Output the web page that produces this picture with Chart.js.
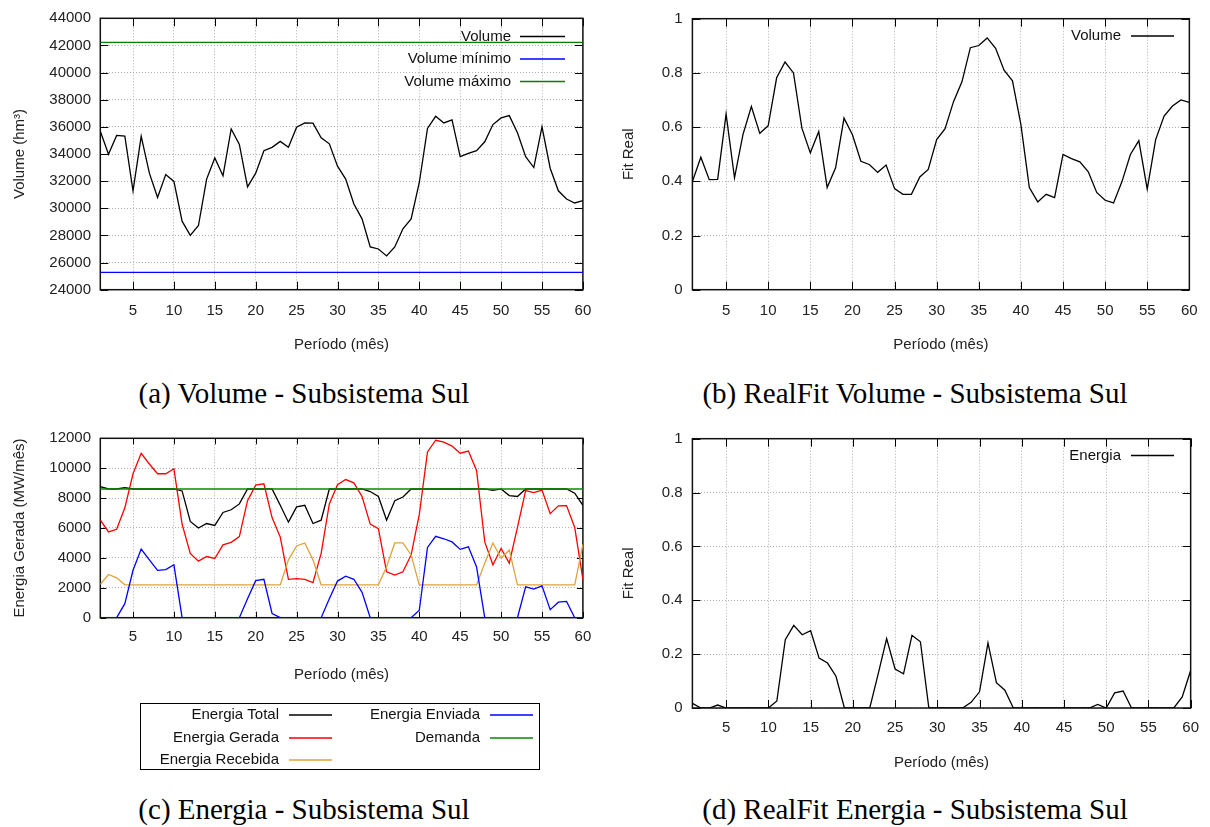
<!DOCTYPE html>
<html><head><meta charset="utf-8">
<script src="https://cdn.jsdelivr.net/npm/chart.js@4.4.0/dist/chart.umd.min.js"></script>
<style>
html,body{margin:0;padding:0;background:#fff}
body{width:1210px;height:827px;position:relative;overflow:hidden}
canvas{position:absolute}
.cap{position:absolute;font-family:"Liberation Serif","Times New Roman",serif;font-size:29px;line-height:1;color:#000;white-space:nowrap;transform:translate(-50%,-50%)}
</style></head><body>
<canvas id="ca" width="605" height="370" style="left:0;top:0"></canvas>
<canvas id="cb" width="605" height="370" style="left:605px;top:0"></canvas>
<canvas id="cc" width="605" height="360" style="left:0;top:420px"></canvas>
<canvas id="cd" width="605" height="360" style="left:605px;top:420px"></canvas>
<div class="cap" style="left:304px;top:393px">(a) Volume - Subsistema Sul</div>
<div class="cap" style="left:915px;top:393px">(b) RealFit Volume - Subsistema Sul</div>
<div class="cap" style="left:304px;top:809px">(c) Energia - Subsistema Sul</div>
<div class="cap" style="left:915px;top:809px">(d) RealFit Energia - Subsistema Sul</div>
<script>
// ---------- data ----------
const periods = [1,2,3,4,5,6,7,8,9,10,11,12,13,14,15,16,17,18,19,20,21,22,23,24,25,26,27,28,29,30,31,32,33,34,35,36,37,38,39,40,41,42,43,44,45,46,47,48,49,50,51,52,53,54,55,56,57,58,59,60];
const xTicks = [5,10,15,20,25,30,35,40,45,50,55,60];

const volume = [35680,33980,35370,35320,31290,35300,32590,30800,32490,31980,
  29050,28000,28730,32150,33710,32390,35850,34700,31580,32590,
  34240,34490,34930,34490,35980,36290,36270,35200,34750,33100,
  32150,30320,29220,27150,27000,26490,27150,28490,29220,31900,
  35880,36780,36290,36510,33800,34050,34240,34900,36170,36660,
  36830,35560,33800,33000,36000,32950,31290,30680,30390,30560];
const volumeMin = 25270;
const volumeMax = 42220;
const volumeTicks = [24000,26000,28000,30000,32000,34000,36000,38000,40000,42000,44000];

const fitVolume = [0.399,0.489,0.406,0.407,0.648,0.413,0.572,0.676,0.577,0.605,
  0.782,0.840,0.800,0.596,0.505,0.584,0.377,0.450,0.633,0.572,
  0.474,0.462,0.433,0.460,0.373,0.352,0.352,0.416,0.444,0.554,
  0.594,0.694,0.767,0.893,0.901,0.929,0.891,0.810,0.771,0.609,
  0.377,0.324,0.352,0.340,0.499,0.484,0.472,0.435,0.359,0.330,
  0.320,0.399,0.499,0.550,0.371,0.554,0.641,0.678,0.700,0.691];
const fitTicks = [0,0.2,0.4,0.6,0.8,1];

const energiaTotal = [8760,8610,8610,8700,8610,8610,8610,8610,8610,8610,
  8480,6440,6000,6300,6170,7040,7220,7610,8610,8610,
  8610,8610,7520,6390,7410,7520,6300,6520,8610,8610,
  8610,8610,8610,8440,8110,6520,7830,8070,8610,8610,
  8610,8610,8610,8610,8610,8610,8610,8610,8520,8610,
  8170,8110,8610,8610,8610,8610,8610,8610,8330,7520];
const energiaGerada = [6540,5740,5910,7350,9630,11000,10280,9630,9630,9960,
  6260,4300,3780,4090,3960,4870,5040,5430,7830,8870,
  8960,6700,5390,2570,2610,2570,2350,4300,7610,8900,
  9240,9020,8110,6260,5960,3070,2850,3070,4200,6910,
  11090,11870,11740,11480,11000,11150,9850,5070,3540,4630,
  3650,6040,8500,8370,8540,6960,7480,7500,6040,2570];
const energiaRecebida = [2240,2890,2670,2200,2200,2200,2200,2200,2200,2200,
  2200,2200,2200,2200,2200,2200,2200,2200,2200,2200,
  2200,2200,2200,3870,4800,5000,3870,2200,2200,2200,
  2200,2200,2200,2200,2200,3400,5000,5000,4200,2200,
  2200,2200,2200,2200,2200,2200,2200,3650,5000,3980,
  4520,2200,2200,2200,2200,2200,2200,2200,2200,4900];
const energiaEnviada = [0,0,0,940,3170,4590,3870,3170,3220,3540,
  0,0,0,0,0,0,0,0,1260,2480,
  2570,280,0,0,0,0,0,0,1260,2450,
  2780,2570,1700,0,0,0,0,0,0,500,
  4700,5440,5280,5070,4570,4740,3390,0,0,0,
  0,0,2070,1910,2130,540,1040,1090,0,0];
const demanda = 8610;
const energiaTicks = [0,2000,4000,6000,8000,10000,12000];

const fitEnergia = [0.017,0,0,0.011,0,0,0,0,0,0,
  0.026,0.254,0.307,0.272,0.287,0.185,0.167,0.118,0,0,
  0,0,0.127,0.258,0.145,0.127,0.270,0.246,0,0,
  0,0,0,0.021,0.060,0.242,0.094,0.066,0,0,
  0,0,0,0,0,0,0,0,0.013,0,
  0.056,0.063,0,0,0,0,0,0,0.041,0.139];

// ---------- helpers ----------
const family = "'Liberation Sans', Arial, Helvetica, sans-serif";
Chart.defaults.font.family = family;
const series = arr => periods.map((p, i) => ({x: p, y: arr[i]}));
const flat = v => [{x: periods[0], y: v}, {x: periods[periods.length - 1], y: v}];

const gnuPlugin = {
  id: 'gnu',
  beforeDatasetsDraw(chart, args, opts) {
    const {ctx, chartArea: a, scales} = chart;
    const tl = opts.tickLen || 8;
    ctx.save();
    ctx.strokeStyle = '#000'; ctx.lineWidth = 1;
    ctx.beginPath();
    scales.x.ticks.forEach(t => {
      const px = Math.round(scales.x.getPixelForValue(t.value)) + 0.5;
      ctx.moveTo(px, a.bottom); ctx.lineTo(px, a.bottom - tl);
      ctx.moveTo(px, a.top); ctx.lineTo(px, a.top + tl);
    });
    scales.y.ticks.forEach(t => {
      const py = Math.round(scales.y.getPixelForValue(t.value)) + 0.5;
      ctx.moveTo(a.left, py); ctx.lineTo(a.left + tl, py);
      ctx.moveTo(a.right, py); ctx.lineTo(a.right - tl, py);
    });
    ctx.stroke();
    ctx.lineWidth = 1.5; ctx.strokeStyle = '#111';
    ctx.strokeRect(a.left, a.top, a.right - a.left, a.bottom - a.top);
    ctx.restore();
  },
  afterDatasetsDraw(chart, args, opts) {
    const L = opts.legend; if (!L) return;
    const ctx = chart.ctx; ctx.save();
    if (L.box) { ctx.strokeStyle = '#000'; ctx.lineWidth = 1; ctx.strokeRect(L.box[0] + 0.5, L.box[1] + 0.5, L.box[2], L.box[3]); }
    ctx.font = '15px ' + family; ctx.textAlign = 'right'; ctx.textBaseline = 'middle';
    L.items.forEach(it => {
      const ds = chart.data.datasets[it.ds];
      ctx.fillStyle = '#111';
      ctx.fillText(ds.label, it.tx, it.y);
      ctx.strokeStyle = ds.borderColor; ctx.lineWidth = 1.3;
      ctx.beginPath(); ctx.moveTo(it.x1, it.y); ctx.lineTo(it.x2, it.y); ctx.stroke();
    });
    ctx.restore();
  }
};

function makeChart(id, c) {
  const tickFont = {family, size: 15};
  return new Chart(document.getElementById(id), {
    type: 'line',
    data: {datasets: c.datasets},
    plugins: [gnuPlugin],
    options: {
      responsive: false, animation: false, devicePixelRatio: 1,
      layout: {padding: {left: 0, top: c.padTop, right: c.padRight, bottom: 0}},
      elements: {point: {radius: 0}, line: {borderWidth: 1.3, tension: 0}},
      plugins: {legend: {display: false}, tooltip: {enabled: false}, gnu: {legend: c.legend, tickLen: c.tickLen}},
      scales: {
        x: {
          type: 'linear', min: 1, max: 60,
          afterBuildTicks: s => { s.ticks = xTicks.map(v => ({value: v})); },
          afterFit: s => { s.height = c.xHeight; },
          grid: {color: '#b0b0b0', lineWidth: 1, drawTicks: false},
          border: {display: false, dash: [1, 2]},
          ticks: {padding: c.xTickPad, color: '#222', font: tickFont, autoSkip: false, maxRotation: 0, callback: v => String(v)},
          title: {display: true, text: 'Período (mês)', color: '#222', font: tickFont, padding: {top: 0, bottom: c.xTitlePad}}
        },
        y: {
          type: 'linear', min: c.yTicks[0], max: c.yTicks[c.yTicks.length - 1],
          afterBuildTicks: s => { s.ticks = c.yTicks.map(v => ({value: v})); },
          afterFit: s => { s.width = c.yWidth; },
          grid: {color: '#b0b0b0', lineWidth: 1, drawTicks: false},
          border: {display: false, dash: [1, 2]},
          ticks: {padding: c.yTickPad, color: '#222', font: tickFont, callback: v => String(v)},
          title: {display: true, text: c.yTitle, color: '#222', font: tickFont, padding: {top: c.yTitlePad, bottom: 0}}
        }
      }
    }
  });
}

// (a)
makeChart('ca', {
  padTop: 16, padRight: 22.1, yWidth: 100.3, xHeight: 80.3, yTickPad: 9.3, xTickPad: 12.3, xTitlePad: 16, yTitlePad: 11, tickLen: 8,
  yTicks: volumeTicks, yTitle: 'Volume (hm³)',
  datasets: [
    {label: 'Volume', data: series(volume), borderColor: '#000000', order: 2},
    {label: 'Volume mínimo', data: flat(volumeMin), borderColor: '#0000ff', order: 1},
    {label: 'Volume máximo', data: flat(volumeMax), borderColor: '#008000', order: 0}
  ],
  legend: {items: [
    {ds: 0, tx: 511, x1: 520, x2: 565, y: 36.5},
    {ds: 1, tx: 511, x1: 520, x2: 565, y: 59},
    {ds: 2, tx: 511, x1: 520, x2: 565, y: 81.5}
  ]}
});

// (b)
makeChart('cb', {
  padTop: 16, padRight: 18, yWidth: 87.4, xHeight: 80.3, yTickPad: 9.7, xTickPad: 12.3, xTitlePad: 16, yTitlePad: 15, tickLen: 8,
  yTicks: fitTicks, yTitle: 'Fit Real',
  datasets: [
    {label: 'Volume', data: series(fitVolume), borderColor: '#000000'}
  ],
  legend: {items: [{ds: 0, tx: 516, x1: 526, x2: 569, y: 36}]}
});

// (c)
makeChart('cc', {
  padTop: 14, padRight: 22.1, yWidth: 100.3, xHeight: 162.3, yTickPad: 9.3, xTickPad: 10.3, xTitlePad: 96, yTitlePad: 11, tickLen: 6,
  yTicks: energiaTicks, yTitle: 'Energia Gerada (MW/mês)',
  datasets: [
    {label: 'Energia Total', data: series(energiaTotal), borderColor: '#000000', order: 4},
    {label: 'Energia Gerada', data: series(energiaGerada), borderColor: '#ff0000', order: 3},
    {label: 'Energia Recebida', data: series(energiaRecebida), borderColor: '#e0a33a', order: 2},
    {label: 'Energia Enviada', data: series(energiaEnviada), borderColor: '#0000ff', order: 1},
    {label: 'Demanda', data: flat(demanda), borderColor: '#008c00', order: 0}
  ],
  legend: {box: [140, 283, 399, 66], items: [
    {ds: 0, tx: 279, x1: 289, x2: 332, y: 295},
    {ds: 1, tx: 279, x1: 289, x2: 332, y: 318},
    {ds: 2, tx: 279, x1: 289, x2: 332, y: 340},
    {ds: 3, tx: 480, x1: 490, x2: 533, y: 295},
    {ds: 4, tx: 480, x1: 490, x2: 533, y: 318}
  ]}
});

// (d)
makeChart('cd', {
  padTop: 14, padRight: 18, yWidth: 87.4, xHeight: 72, yTickPad: 9.7, xTickPad: 11, xTitlePad: 8, yTitlePad: 15, tickLen: 8,
  yTicks: fitTicks, yTitle: 'Fit Real',
  datasets: [
    {label: 'Energia', data: series(fitEnergia), borderColor: '#000000'}
  ],
  legend: {items: [{ds: 0, tx: 516, x1: 526, x2: 569, y: 35.5}]}
});
</script>
</body></html>
